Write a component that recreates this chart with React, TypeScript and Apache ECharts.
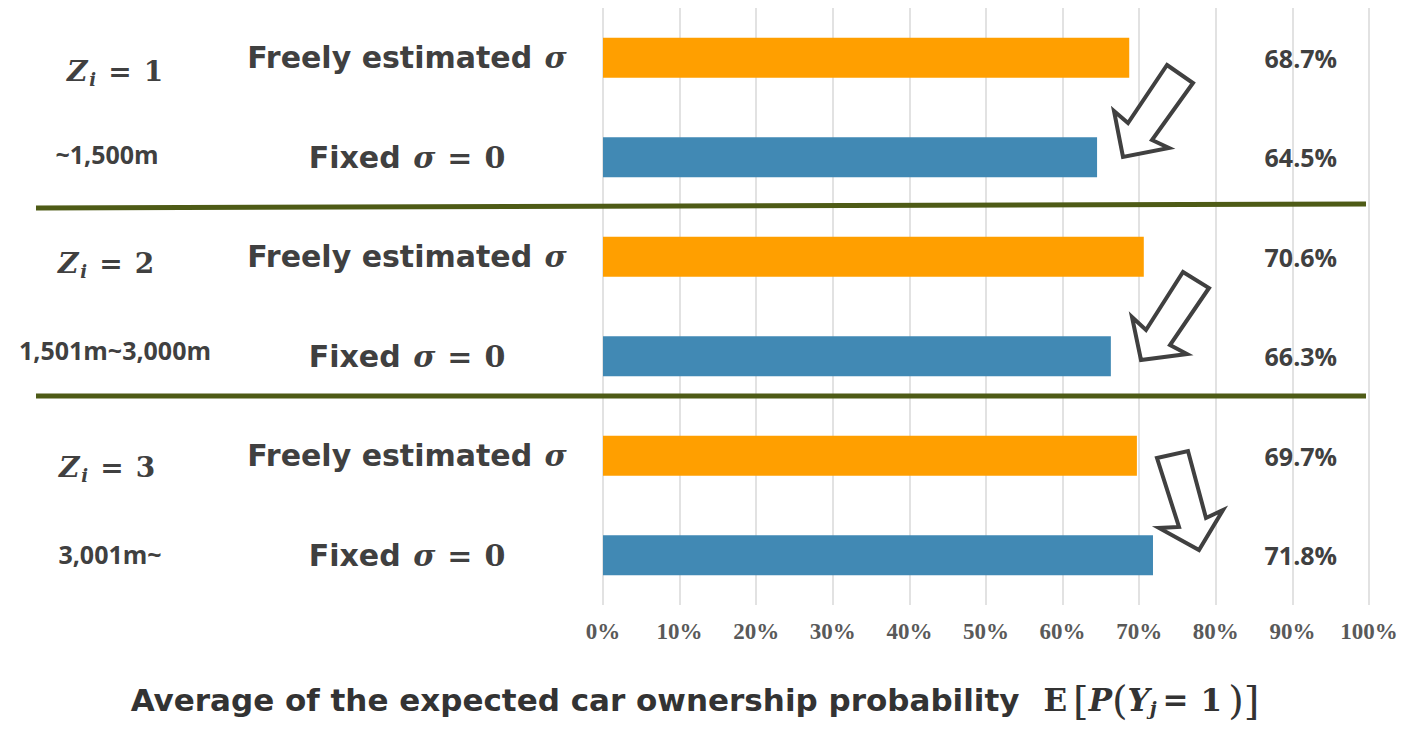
import React, { useEffect, useRef } from "react";
import * as echarts from "echarts";

const categories = [
  "Freely estimated σ",
  "Fixed σ = 0",
  "Freely estimated σ",
  "Fixed σ = 0",
  "Freely estimated σ",
  "Fixed σ = 0",
];
const probabilities = [68.7, 64.5, 70.6, 66.3, 69.7, 71.8];
const groupNumbers = ["1", "2", "3"];
const distanceLabels = ["~1,500m", "1,501m~3,000m", "3,001m~"];
const xMin = 0;
const xMax = 100;
const xInterval = 10;

const ORANGE = "#FF9F00";
const BLUE = "#4189B4";
const TEXT = "#404040";
const LABEL_X = 91.1;

const SANS = "'DejaVu Sans', sans-serif";
const SERIF = "'DejaVu Serif', serif";
const TSERIF = "'Liberation Serif', 'Times New Roman', serif";

export default function App() {
  const ref = useRef<HTMLDivElement>(null);

  useEffect(() => {
    if (!ref.current) return;
    const chart = echarts.init(ref.current, undefined, { renderer: "svg" });

    const zY = [71, 263, 467];
    const zX = [115, 106, 107];
    const dY = [154, 350, 554];
    const dX = [107, 115, 110];

    const graphics: any[] = [];
    groupNumbers.forEach((n, i) => {
      graphics.push({
        type: "text",
        x: zX[i],
        y: zY[i],
        z: 20,
        style: {
          text: `{z|Z}{s|i}{e|=}{e|${n}}`,
          align: "center",
          verticalAlign: "middle",
          rich: {
            z: { fontFamily: SERIF, fontStyle: "italic", fontWeight: "bold", fontSize: 28, fill: TEXT },
            s: { fontFamily: SERIF, fontStyle: "italic", fontWeight: "bold", fontSize: 18, fill: TEXT, padding: [16, 0, 0, 2] },
            e: { fontFamily: SERIF, fontWeight: "bold", fontSize: 28, fill: TEXT, padding: [0, 0, 0, 12] },
          },
        },
      });
      graphics.push({
        type: "text",
        x: dX[i],
        y: dY[i],
        z: 20,
        style: {
          text: distanceLabels[i],
          align: "center",
          verticalAlign: "middle",
          fontFamily: "'Open Sans', sans-serif",
          fontWeight: "bold",
          fontSize: 25,
          fill: TEXT,
        },
      });
    });

    // separator lines
    graphics.push({
      type: "line",
      z: 20,
      shape: { x1: 36, y1: 208, x2: 1366, y2: 204 },
      style: { stroke: "#4E5B16", lineWidth: 5 },
    });
    graphics.push({
      type: "line",
      z: 20,
      shape: { x1: 36, y1: 396, x2: 1366, y2: 396 },
      style: { stroke: "#4E5B16", lineWidth: 5 },
    });

    const arrows = [
      [
        [1167, 65], [1193, 83], [1152, 140], [1169, 148], [1123, 157], [1114, 111], [1128, 123],
      ],
      [
        [1183, 272], [1209, 288], [1170, 345], [1187, 354], [1141, 360], [1132, 317], [1146, 330],
      ],
      [
        [1157, 458], [1188, 451], [1206, 518], [1223, 510], [1199, 550], [1159, 528], [1179, 527],
      ],
    ];
    arrows.forEach((pts) => {
      graphics.push({
        type: "polygon",
        z: 20,
        shape: { points: pts },
        style: { fill: "#ffffff", stroke: "#404040", lineWidth: 4, lineJoin: "miter" },
      });
    });

    // axis title
    graphics.push({
      type: "text",
      x: 695,
      y: 700,
      z: 20,
      style: {
        text: "{t|Average of the expected car ownership probability}{g| }{m|E}{b|[}{i|P}{b|(}{i|Y}{s|j}{m|=}{m|1}{b|)]}",
        align: "center",
        verticalAlign: "middle",
        rich: {
          t: { fontFamily: SANS, fontWeight: "bold", fontSize: 31, fill: "#333333" },
          g: { fontFamily: SANS, fontSize: 31, width: 18 },
          m: { fontFamily: SERIF, fontWeight: "bold", fontSize: 31, fill: "#333333", padding: [0, 6, 0, 6] },
          b: { fontFamily: SERIF, fontSize: 40, fill: "#333333" },
          i: { fontFamily: SERIF, fontStyle: "italic", fontWeight: "bold", fontSize: 31, fill: "#333333" },
          s: { fontFamily: SERIF, fontStyle: "italic", fontWeight: "bold", fontSize: 19, fill: "#333333", padding: [16, 0, 0, 0] },
        },
      },
    });

    const option: any = {
      animation: false,
      backgroundColor: "#ffffff",
      grid: { left: 603, right: 34, top: 8, bottom: 125, containLabel: false },
      xAxis: {
        type: "value",
        min: xMin,
        max: xMax,
        interval: xInterval,
        axisLine: { show: false },
        axisTick: { show: false },
        splitLine: { show: true, lineStyle: { color: "#D9D9D9", width: 1.5 } },
        axisLabel: {
          formatter: "{value}%",
          fontFamily: TSERIF,
          fontWeight: "bold",
          fontSize: 23,
          color: "#595959",
          margin: 15,
        },
      },
      yAxis: {
        type: "category",
        data: categories,
        inverse: true,
        axisLine: { show: false },
        axisTick: { show: false },
        splitLine: { show: false },
        axisLabel: {
          align: "center",
          margin: 196,
          formatter: (v: string) =>
            v.replace("σ = 0", "{m|σ}{n|=}{n|0}").replace(/σ$/, "{m|σ}"),
          fontFamily: SANS,
          fontWeight: "bold",
          fontSize: 30,
          color: TEXT,
          rich: {
            m: { fontFamily: SERIF, fontStyle: "italic", fontWeight: "bold", fontSize: 30, color: TEXT, padding: [0, 0, 0, 2] },
            n: { fontFamily: SERIF, fontWeight: "bold", fontSize: 30, color: TEXT, padding: [0, 0, 0, 12] },
          },
        },
      },
      series: [
        {
          type: "bar",
          barWidth: 40,
          data: probabilities.map((v, i) => ({
            value: v,
            itemStyle: { color: i % 2 === 0 ? ORANGE : BLUE },
          })),
        },
        {
          type: "scatter",
          symbolSize: 1,
          itemStyle: { color: "rgba(0,0,0,0)", opacity: 1 },
          silent: true,
          z: 5,
          data: probabilities.map((v, i) => [LABEL_X, i, v]),
          label: {
            show: true,
            position: "inside",
            formatter: (p: any) => `${p.value[2].toFixed(1)}%`,
            fontFamily: "'Open Sans', sans-serif",
            fontWeight: "bold",
            fontSize: 25,
            color: TEXT,
            opacity: 1,
          },
        },
      ],
      graphic: graphics,
    };

    chart.setOption(option);
    return () => chart.dispose();
  }, []);

  return (
    <div
      ref={ref}
      style={{ position: "absolute", left: 0, top: 0, width: 1403, height: 730 }}
    />
  );
}
